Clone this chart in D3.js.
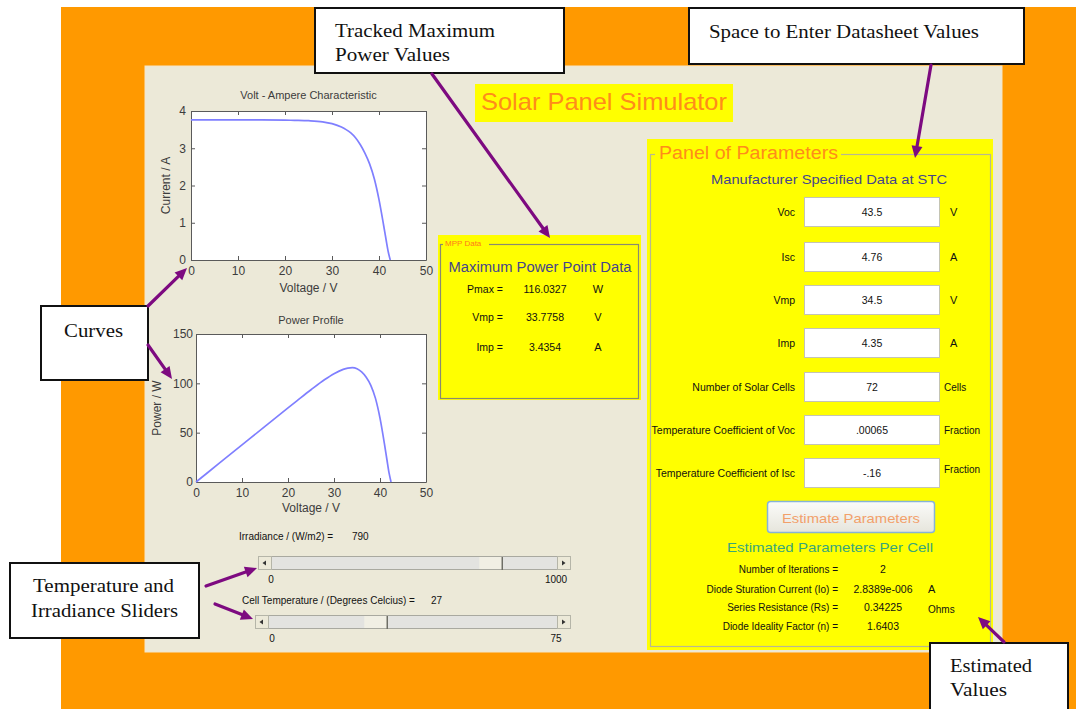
<!DOCTYPE html>
<html><head><meta charset="utf-8">
<script src="https://cdn.jsdelivr.net/npm/d3@7"></script>
<style>body{margin:0;background:#fff;} svg{display:block}</style>
</head><body>
<svg id="c" width="1076" height="709"></svg>
<script>
// ---------- data ----------
const voltage = [0, 5, 10, 15, 20, 22, 25, 28, 30, 32, 33, 34, 35, 36, 37, 38, 39, 40, 41, 41.5, 42, 42.4];
const current = [3.76, 3.76, 3.76, 3.76, 3.755, 3.75, 3.74, 3.71, 3.66, 3.57, 3.50, 3.41, 3.28, 3.10, 2.87, 2.58, 2.18, 1.62, 0.92, 0.55, 0.20, 0];
const power   = [0, 18.8, 37.6, 56.4, 75.1, 82.5, 93.5, 103.9, 109.8, 114.2, 115.5, 115.9, 114.8, 111.6, 106.2, 98.0, 85.0, 64.8, 37.7, 22.8, 8.4, 0];
const voltTicks = [0, 10, 20, 30, 40, 50];
const currentTicks = [0, 1, 2, 3, 4];
const powerTicks = [0, 50, 100, 150];

const mppLabels = ["Pmax =", "Vmp =", "Imp ="];
const mppValues = ["116.0327", "33.7758", "3.4354"];
const mppUnits  = ["W", "V", "A"];

const paramLabels = ["Voc", "Isc", "Vmp", "Imp", "Number of Solar Cells", "Temperature Coefficient of Voc", "Temperature Coefficient of Isc"];
const paramValues = ["43.5", "4.76", "34.5", "4.35", "72", ".00065", "-.16"];
const paramUnits  = ["V", "A", "V", "A", "Cells", "Fraction", "Fraction"];

const estLabels = ["Number of Iterations =", "Diode Sturation Current (Io) =", "Series Resistance (Rs) =", "Diode Ideality Factor (n) ="];
const estValues = ["2", "2.8389e-006", "0.34225", "1.6403"];
const estUnits  = ["", "A", "Ohms", ""];

const irradiance = 790;
const irradianceRange = [0, 1000];
const temperature = 27;
const temperatureRange = [0, 75];

// ---------- drawing ----------
const SANS = "'Liberation Sans', Arial, sans-serif";
const SERIF = "'Liberation Serif', 'Times New Roman', serif";
const svg = d3.select("#c");

svg.append("rect").attr("width", 1076).attr("height", 709).attr("fill", "#fff");
svg.append("rect").attr("x", 61).attr("y", 7).attr("width", 1015).attr("height", 702).attr("fill", "#ff9900");
svg.append("rect").attr("x", 145).attr("y", 66).attr("width", 857).attr("height", 586).attr("fill", "#ece9d8")
  .attr("stroke", "#f5e6c8").attr("stroke-width", 1);

function txt(g, x, y, s, o = {}) {
  const t = g.append("text").attr("x", x).attr("y", y).text(s)
    .attr("font-family", o.family || SANS)
    .attr("font-size", o.size || 10.5)
    .attr("fill", o.fill || "#111")
    .attr("text-anchor", o.anchor || "start")
    .attr("dominant-baseline", "central");
  if (o.len) t.attr("textLength", o.len).attr("lengthAdjust", "spacingAndGlyphs");
  if (o.weight) t.attr("font-weight", o.weight);
  return t;
}

// Title
svg.append("rect").attr("x", 475).attr("y", 84).attr("width", 258).attr("height", 38).attr("fill", "#ffff00");
txt(svg, 481, 101, "Solar Panel Simulator", { size: 24, fill: "#ff8c1a", len: 246 });

// ---------- plots ----------
function drawPlot(o) {
  const g = svg.append("g");
  const x = d3.scaleLinear().domain([0, 50]).range([o.l, o.r]);
  const y = d3.scaleLinear().domain(o.yDomain).range([o.b, o.t]);
  const fmt = d3.format("d");
  g.append("rect").attr("x", o.l).attr("y", o.t).attr("width", o.r - o.l).attr("height", o.b - o.t).attr("fill", "#fff");

  const style = sel => {
    sel.attr("font-size", 12).attr("font-family", SANS).attr("color", "#5a5a5a");
    sel.selectAll("text").attr("fill", "#3c3c3c");
  };
  g.append("g").attr("transform", `translate(0,${o.b})`)
    .call(d3.axisBottom(x).tickValues(voltTicks).tickFormat(fmt).tickSizeInner(-4).tickSizeOuter(0).tickPadding(6)).call(style);
  g.append("g").attr("transform", `translate(0,${o.t})`)
    .call(d3.axisTop(x).tickValues(voltTicks).tickSizeInner(-4).tickSizeOuter(0).tickFormat("")).call(style);
  g.append("g").attr("transform", `translate(${o.l},0)`)
    .call(d3.axisLeft(y).tickValues(o.yTicks).tickFormat(fmt).tickSizeInner(-4).tickSizeOuter(0).tickPadding(o.yPad)).call(style);
  g.append("g").attr("transform", `translate(${o.r},0)`)
    .call(d3.axisRight(y).tickValues(o.yTicks).tickSizeInner(-4).tickSizeOuter(0).tickFormat("")).call(style);

  const line = d3.line().x((d, i) => x(voltage[i])).y(d => y(d)).curve(d3.curveMonotoneX);
  g.append("path").datum(o.values).attr("d", line).attr("fill", "none")
    .attr("stroke", "#7f7fff").attr("stroke-width", 1.7);

  txt(g, (o.l + o.r) / 2, o.titleY, o.title, { size: 11, fill: "#3c3c3c", anchor: "middle" });
  txt(g, (o.l + o.r) / 2, o.xLabelY, "Voltage / V", { size: 12, fill: "#3c3c3c", anchor: "middle" });
  txt(g, 0, 0, o.yLabel, { size: 12, fill: "#3c3c3c", anchor: "middle" })
    .attr("transform", `translate(${o.yLabelX},${(o.t + o.b) / 2}) rotate(-90)`);
}

drawPlot({ l: 191, r: 426, t: 111, b: 260, yDomain: [0, 4], yTicks: currentTicks, yPad: 5,
  values: current, title: "Volt - Ampere Characteristic", titleY: 95, xLabelY: 288,
  yLabel: "Current / A", yLabelX: 166 });
drawPlot({ l: 196, r: 426, t: 334, b: 482, yDomain: [0, 150], yTicks: powerTicks, yPad: 3,
  values: power, title: "Power Profile", titleY: 320, xLabelY: 508,
  yLabel: "Power / W", yLabelX: 157 });

// ---------- MPP panel ----------
const mpp = svg.append("g");
mpp.append("rect").attr("x", 438).attr("y", 235).attr("width", 203).attr("height", 165).attr("fill", "#ffff00");
mpp.append("rect").attr("x", 440.5).attr("y", 244.5).attr("width", 198).attr("height", 154)
  .attr("fill", "none").attr("stroke", "#8a8a70").attr("stroke-width", 1.2);
mpp.append("rect").attr("x", 443).attr("y", 238).attr("width", 46).attr("height", 10).attr("fill", "#ffff00");
txt(mpp, 445, 243, "MPP Data", { size: 8, fill: "#ff7a1a" });
txt(mpp, 540, 267, "Maximum Power Point Data", { size: 14, fill: "#45458c", anchor: "middle", len: 183 });
const mppY = [289, 317, 347];
mppLabels.forEach((s, i) => {
  txt(mpp, 503, mppY[i], s, { anchor: "end" });
  txt(mpp, 545, mppY[i], mppValues[i], { anchor: "middle" });
  txt(mpp, 598, mppY[i], mppUnits[i], { anchor: "middle", size: 11 });
});

// ---------- Parameters panel ----------
const pp = svg.append("g");
pp.append("rect").attr("x", 647).attr("y", 139).attr("width", 346).attr("height", 511).attr("fill", "#ffff00");
pp.append("rect").attr("x", 650.5).attr("y", 154.5).attr("width", 340).attr("height", 492)
  .attr("fill", "none").attr("stroke", "#b8b890").attr("stroke-width", 1.2);
pp.append("rect").attr("x", 655).attr("y", 143).attr("width", 186).attr("height", 22).attr("fill", "#ffff00");
txt(pp, 659, 153, "Panel of Parameters", { size: 18, fill: "#ff8c1a", len: 179 });
txt(pp, 829, 179, "Manufacturer Specified Data at STC", { size: 13.5, fill: "#45458c", anchor: "middle", len: 236 });

const boxY = [197, 242, 285, 328, 372, 415, 458];
const unitDy = [0, 0, 0, 0, 0, 0, -4];
paramLabels.forEach((s, i) => {
  const cy = boxY[i] + 15;
  pp.append("rect").attr("x", 804.5).attr("y", boxY[i] + 0.5).attr("width", 135).attr("height", 29)
    .attr("fill", "#fff").attr("stroke", "#c4c4b4").attr("stroke-width", 1);
  txt(pp, 795, cy, s, { anchor: "end" });
  txt(pp, 872, cy, paramValues[i], { anchor: "middle" });
  const isLetter = paramUnits[i].length === 1;
  txt(pp, isLetter ? 950 : 944, cy + unitDy[i], paramUnits[i], { size: isLetter ? 11 : 10 });
});

// button
const grad = svg.append("defs").append("linearGradient").attr("id", "btn").attr("x1", 0).attr("y1", 0).attr("x2", 0).attr("y2", 1);
grad.append("stop").attr("offset", 0).attr("stop-color", "#fbfbf9");
grad.append("stop").attr("offset", 1).attr("stop-color", "#e6e5dc");
pp.append("rect").attr("x", 767.5).attr("y", 501.5).attr("width", 167).attr("height", 31).attr("rx", 3)
  .attr("fill", "url(#btn)").attr("stroke", "#86b3d8").attr("stroke-width", 1.5);
txt(pp, 851, 518, "Estimate Parameters", { size: 13.5, fill: "#f2a06a", anchor: "middle", len: 138 });

txt(pp, 830, 547, "Estimated Parameters Per Cell", { size: 13.5, fill: "#3aa67a", anchor: "middle", len: 206 });
const estY = [569, 589, 607, 626];
estLabels.forEach((s, i) => {
  txt(pp, 838, estY[i], s, { anchor: "end", size: 10 });
  txt(pp, 883, estY[i], estValues[i], { anchor: "middle" });
  if (estUnits[i]) txt(pp, 928, estY[i] + (i === 2 ? 2 : 0), estUnits[i], { size: estUnits[i].length > 1 ? 10 : 11 });
});

// ---------- sliders ----------
function drawSlider(x0, x1, y0, h, value, range) {
  const g = svg.append("g");
  const btn = 13, thumbW = 23;
  const s = d3.scaleLinear().domain(range).range([x0 + btn, x1 - btn - thumbW]);
  g.append("rect").attr("x", x0 + 0.5).attr("y", y0 + 0.5).attr("width", x1 - x0).attr("height", h)
    .attr("fill", "#e3e3e0").attr("stroke", "#a9a9a0");
  [[x0, -1], [x1 - btn, 1]].forEach(([bx, dir]) => {
    g.append("rect").attr("x", bx + 0.5).attr("y", y0 + 0.5).attr("width", btn).attr("height", h)
      .attr("fill", "#ece9d8").attr("stroke", "#b5b5a8");
    const cx = bx + btn / 2, cy = y0 + h / 2 + 0.5;
    g.append("path").attr("d", `M${cx + dir * 2},${cy} L${cx - dir * 1.5},${cy - 2.5} L${cx - dir * 1.5},${cy + 2.5} Z`)
      .attr("fill", "#333");
  });
  const tx = s(value);
  g.append("rect").attr("x", tx + 0.5).attr("y", y0 + 1).attr("width", thumbW).attr("height", h - 1)
    .attr("fill", "#f1efe4");
  g.append("line").attr("x1", tx + thumbW + 0.5).attr("x2", tx + thumbW + 0.5).attr("y1", y0 + 1).attr("y2", y0 + h + 1)
    .attr("stroke", "#6e6e66").attr("stroke-width", 1.5);
  return s;
}
drawSlider(258, 570, 556, 13, irradiance, irradianceRange);
drawSlider(255, 570, 615, 13, temperature, temperatureRange);
txt(svg, 239, 536, "Irradiance / (W/m2) =", { size: 10 });
txt(svg, 352, 536, String(irradiance), { size: 10 });
txt(svg, 271, 579, String(irradianceRange[0]), { anchor: "middle", size: 10 });
txt(svg, 556, 579, String(irradianceRange[1]), { anchor: "middle", size: 10 });
txt(svg, 242, 600, "Cell Temperature / (Degrees Celcius) =", { size: 10 });
txt(svg, 431, 600, String(temperature), { size: 10 });
txt(svg, 272, 638, String(temperatureRange[0]), { anchor: "middle", size: 10 });
txt(svg, 556, 638, String(temperatureRange[1]), { anchor: "middle", size: 10 });

// ---------- callouts ----------
function callout(x, y, w, h, lines) {
  const g = svg.append("g");
  g.append("rect").attr("x", x).attr("y", y).attr("width", w).attr("height", h)
    .attr("fill", "#fff").attr("stroke", "#111").attr("stroke-width", 2);
  lines.forEach(l => txt(g, l.x, l.y, l.t, { family: SERIF, size: 19, fill: "#111", anchor: l.a || "start", len: l.len }));
}
callout(315, 8, 249, 65, [{ x: 335, y: 30, t: "Tracked Maximum", len: 160 }, { x: 335, y: 54, t: "Power Values", len: 115 }]);
callout(689, 8, 335, 56, [{ x: 709, y: 31, t: "Space to Enter Datasheet Values", len: 270 }]);
callout(41, 306, 107, 74, [{ x: 64, y: 330, t: "Curves", len: 59 }]);
callout(10, 563, 189, 75, [{ x: 33, y: 585, t: "Temperature and", len: 141 }, { x: 31, y: 610, t: "Irradiance Sliders", len: 147 }]);
callout(930, 643, 138, 70, [{ x: 950, y: 665, t: "Estimated", len: 82 }, { x: 950, y: 689, t: "Values", len: 57 }]);

// ---------- arrows ----------
function arrow(x1, y1, x2, y2) {
  const a = Math.atan2(y2 - y1, x2 - x1), L = 12, W = 5.5;
  const bx = x2 - L * Math.cos(a), by = y2 - L * Math.sin(a);
  svg.append("line").attr("x1", x1).attr("y1", y1).attr("x2", bx).attr("y2", by)
    .attr("stroke", "#7d0a80").attr("stroke-width", 3.2).attr("stroke-linecap", "round");
  const px = -Math.sin(a) * W, py = Math.cos(a) * W;
  svg.append("path").attr("d", `M${x2},${y2} L${bx + px},${by + py} L${bx - px},${by - py} Z`).attr("fill", "#7d0a80");
}
arrow(432, 74, 550, 238);
arrow(931, 65, 915, 158);
arrow(148, 306, 187, 268);
arrow(148, 345, 172, 379);
arrow(206, 586, 257, 568);
arrow(215, 604, 253, 619);
arrow(1004, 642, 978, 617);
</script>
</body></html>
